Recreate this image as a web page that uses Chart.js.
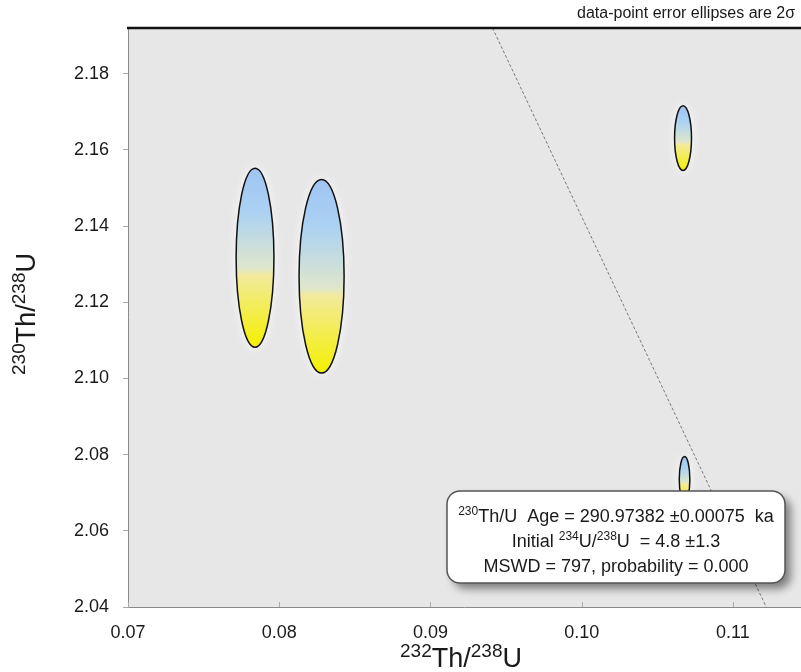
<!DOCTYPE html>
<html>
<head>
<meta charset="utf-8">
<script src="https://cdn.jsdelivr.net/npm/chart.js@4"></script>
<style>
  body { margin: 0; background: #fff; }
  canvas { display: block; }
</style>
</head>
<body>
<canvas id="isochron" width="801" height="672"></canvas>
<script>
// measured ratios (ellipse centres) and 2-sigma half axes
const thU = [0.0784, 0.0828, 0.1067, 0.1068]
const thU230 = [2.1317, 2.1268, 2.1631, 2.0735]
const thUErr = [0.00125, 0.00149, 0.00056, 0.00035]
const thU230Err = [0.0235, 0.0254, 0.0085, 0.0060]

// reference line end points
const refLineX = [0.0941, 0.1122]
const refLineY = [2.192, 2.04]

const xTicks = [0.07, 0.08, 0.09, 0.10, 0.11]
const yTicks = [2.04, 2.06, 2.08, 2.10, 2.12, 2.14, 2.16, 2.18]

const FONT = '"Liberation Sans", Arial, sans-serif'

// draw text runs where some pieces are superscripts
function richWidth(ctx, parts, size, supSize) {
    let w = 0
    parts.forEach(p => {
        ctx.font = (p.sup ? supSize : size) + 'px ' + FONT
        w += ctx.measureText(p.t).width
    })
    return w
}

function drawRich(ctx, parts, x, y, size, supSize, align) {
    const w = richWidth(ctx, parts, size, supSize)
    let cx = align === 'center' ? x - w / 2 : (align === 'right' ? x - w : x)
    ctx.textAlign = 'left'
    ctx.textBaseline = 'alphabetic'
    parts.forEach(p => {
        ctx.font = (p.sup ? supSize : size) + 'px ' + FONT
        ctx.fillText(p.t, cx, p.sup ? y - size * 0.38 : y)
        cx += ctx.measureText(p.t).width
    })
}

const framePlugin = {
    id: 'frame',
    beforeDraw(chart) {
        const { ctx, chartArea: a } = chart
        ctx.save()
        ctx.fillStyle = '#fff'
        ctx.fillRect(0, 0, chart.width, chart.height)
        ctx.fillStyle = '#e7e7e7'
        ctx.fillRect(a.left, a.top, a.right - a.left, a.bottom - a.top)
        ctx.restore()
    },
    afterDraw(chart) {
        const { ctx, chartArea: a, scales } = chart
        ctx.save()
        // left and bottom axis lines
        ctx.strokeStyle = '#8a8a8a'
        ctx.lineWidth = 1
        ctx.beginPath()
        ctx.moveTo(a.left + 0.5, a.top)
        ctx.lineTo(a.left + 0.5, a.bottom + 0.5)
        ctx.lineTo(a.right, a.bottom + 0.5)
        ctx.stroke()
        // small inward ticks on the x axis
        ctx.strokeStyle = '#aaa'
        xTicks.forEach(v => {
            const px = Math.round(scales.x.getPixelForValue(v)) + 0.5
            ctx.beginPath()
            ctx.moveTo(px, a.bottom)
            ctx.lineTo(px, a.bottom - 5)
            ctx.stroke()
        })
        // heavy top rule
        ctx.strokeStyle = '#111'
        ctx.lineWidth = 2.5
        ctx.beginPath()
        ctx.moveTo(a.left - 1, a.top)
        ctx.lineTo(chart.width, a.top)
        ctx.stroke()

        ctx.fillStyle = '#1a1a1a'
        ctx.font = '16px ' + FONT
        ctx.textAlign = 'right'
        ctx.textBaseline = 'alphabetic'
        ctx.fillText('data-point error ellipses are 2\u03c3', 795, 18)

        // axis titles
        drawRich(ctx, [{ t: '232', sup: true }, { t: 'Th/' }, { t: '238', sup: true }, { t: 'U' }],
            461, 667, 27, 19, 'center')
        ctx.translate(35, 314)
        ctx.rotate(-Math.PI / 2)
        drawRich(ctx, [{ t: '230', sup: true }, { t: 'Th/' }, { t: '238', sup: true }, { t: 'U' }],
            0, 0, 27, 19, 'center')
        ctx.restore()

        // result box
        ctx.save()
        const bx = 447, by = 491, bw = 338, bh = 92
        ctx.shadowColor = 'rgba(0,0,0,0.45)'
        ctx.shadowBlur = 9
        ctx.shadowOffsetX = 6
        ctx.shadowOffsetY = 6
        ctx.fillStyle = '#fff'
        ctx.beginPath()
        ctx.roundRect(bx, by, bw, bh, 13)
        ctx.fill()
        ctx.shadowColor = 'transparent'
        ctx.strokeStyle = '#555'
        ctx.lineWidth = 1.5
        ctx.stroke()
        ctx.fillStyle = '#1a1a1a'
        const mid = bx + bw / 2
        drawRich(ctx, [{ t: '230', sup: true }, { t: 'Th/U  Age = 290.97382 \u00b10.00075  ka' }],
            mid, 522, 18, 12, 'center')
        drawRich(ctx, [{ t: 'Initial ' }, { t: '234', sup: true }, { t: 'U/' }, { t: '238', sup: true }, { t: 'U  = 4.8 \u00b11.3' }],
            mid, 547, 18, 12, 'center')
        drawRich(ctx, [{ t: 'MSWD = 797, probability = 0.000' }], mid, 572, 18, 12, 'center')
        ctx.restore()
    }
}

// error ellipses, placed through the chart's own scales
const ellipsePlugin = {
    id: 'ellipses',
    afterDatasetsDraw(chart) {
        const { ctx, chartArea: a, scales } = chart
        ctx.save()
        ctx.beginPath()
        ctx.rect(a.left, a.top, a.right - a.left, a.bottom - a.top)
        ctx.clip()
        for (let i = 0; i < thU.length; i++) {
            const cx = scales.x.getPixelForValue(thU[i])
            const cy = scales.y.getPixelForValue(thU230[i])
            const rx = Math.abs(scales.x.getPixelForValue(thU[i] + thUErr[i]) - cx)
            const ry = Math.abs(scales.y.getPixelForValue(thU230[i] + thU230Err[i]) - cy)
            const grad = ctx.createLinearGradient(0, cy - ry, 0, cy + ry)
            grad.addColorStop(0, '#a0c4f4')
            grad.addColorStop(0.25, '#acd2f2')
            grad.addColorStop(0.56, '#dfe6cc')
            grad.addColorStop(0.6, '#f2ea9c')
            grad.addColorStop(1, '#f4f000')
            ctx.beginPath()
            ctx.ellipse(cx, cy, rx, ry, 0, 0, Math.PI * 2)
            ctx.shadowColor = 'rgba(255,255,255,0.9)'
            ctx.shadowBlur = 10
            ctx.fillStyle = grad
            ctx.fill()
            ctx.shadowColor = 'transparent'
            ctx.strokeStyle = '#111'
            ctx.lineWidth = 1.5
            ctx.stroke()
        }
        ctx.restore()
    }
}

new Chart(document.getElementById('isochron'), {
    type: 'scatter',
    data: {
        datasets: [
            {
                label: 'ref',
                type: 'line',
                data: refLineX.map((x, i) => ({ x: x, y: refLineY[i] })),
                borderColor: '#7a7a7a',
                borderWidth: 1,
                borderDash: [3, 2],
                pointRadius: 0,
                fill: false
            },
            {
                label: 'centres',
                data: thU.map((x, i) => ({ x: x, y: thU230[i] })),
                pointRadius: 0
            }
        ]
    },
    options: {
        responsive: false,
        animation: false,
        devicePixelRatio: 1,
        layout: { padding: { top: 28, right: 0, left: 0, bottom: 0 } },
        plugins: { legend: { display: false }, tooltip: { enabled: false } },
        scales: {
            x: {
                type: 'linear',
                min: 0.07,
                max: 0.1145,
                afterBuildTicks: scale => { scale.ticks = xTicks.map(v => ({ value: v })) },
                afterFit: scale => { scale.height = 65 },
                grid: { display: false, drawTicks: false },
                border: { display: false },
                ticks: {
                    padding: 15,
                    color: '#1a1a1a',
                    font: { family: FONT, size: 18 },
                    callback: v => v.toFixed(2)
                }
            },
            y: {
                type: 'linear',
                min: 2.04,
                max: 2.192,
                afterBuildTicks: scale => { scale.ticks = yTicks.map(v => ({ value: v })) },
                afterFit: scale => { scale.width = 128 },
                grid: { drawOnChartArea: false, drawTicks: true, tickLength: 5, color: '#aaa' },
                border: { display: false },
                ticks: {
                    padding: 14,
                    color: '#1a1a1a',
                    font: { family: FONT, size: 18 },
                    callback: v => v.toFixed(2)
                }
            }
        }
    },
    plugins: [framePlugin, ellipsePlugin]
})
</script>
</body>
</html>
